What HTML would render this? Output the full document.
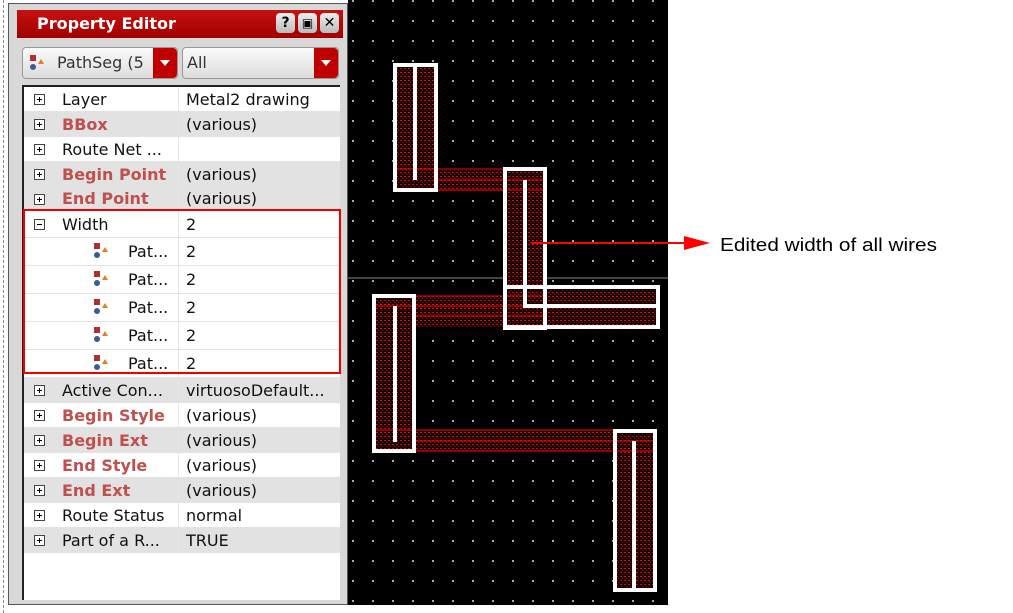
<!DOCTYPE html>
<html><head><meta charset="utf-8"><style>
body{margin:0;width:1013px;height:613px;background:#fff;position:relative;overflow:hidden;font-family:"DejaVu Sans","Liberation Sans",sans-serif}
.abs{position:absolute}
#panel{left:8px;top:3px;width:340px;height:602px;background:#d8d8d8;border:1px solid #555;box-sizing:border-box}
#title{left:17px;top:10px;width:326px;height:28px;background:linear-gradient(#c81010,#a00000);color:#fff;font-weight:bold;font-size:16px;line-height:28px}
.tb{top:13px;width:19px;height:20px;background:linear-gradient(#eee,#bbb);border-radius:4px;color:#000;font-weight:bold;font-size:14px;text-align:center;line-height:20px}
.dd{top:47px;height:32px;background:linear-gradient(#fafafa,#ddd);border:1px solid #999;border-radius:4px;box-sizing:border-box;font-size:16px;line-height:30px;color:#333}
.ddb{position:absolute;right:0;top:0;width:24px;height:30px;background:#c00000;border-radius:0 4px 4px 0}
.ddb:after{content:"";position:absolute;left:7px;top:12px;border-left:5px solid transparent;border-right:5px solid transparent;border-top:6px solid #fff}
#tbl{left:22px;top:85px;width:318px;height:515px;background:#fff;border-left:2px solid #222;border-top:2px solid #222;box-sizing:border-box}
.row{position:absolute;left:0;width:316px;font-size:16px;color:#111;border-bottom:1px solid #e2e2e2;box-sizing:border-box;white-space:nowrap}
.row.g{background:#e2e2e2}
.row .pm{position:absolute;left:10px;width:11px;height:11px;border:1px solid #444;box-sizing:border-box;background:#fff}
.row .pm:before{content:"";position:absolute;left:2px;top:4px;width:5px;height:1px;background:#000}
.row .pm.p:after{content:"";position:absolute;left:4px;top:2px;width:1px;height:5px;background:#000}
.row .n{position:absolute;left:38px}
.row .v{position:absolute;left:162px}
.row .sep{position:absolute;left:154px;top:0;bottom:0;width:1px;background:#e6e6e6}
.b{color:#c0504d;font-weight:bold}
.ic{position:absolute;width:16px;height:16px}
</style></head><body>
<div class="abs" style="left:0;top:0;width:3px;height:613px;border-right:1px dashed #888"></div>
<div id="panel" class="abs"></div>
<div id="title" class="abs"><span style="margin-left:20px">Property Editor</span></div>
<div class="abs tb" style="left:276px">?</div>
<div class="abs tb" style="left:298px;font-size:12px">▣</div>
<div class="abs tb" style="left:320px">✕</div>
<div class="abs dd" style="left:22px;width:156px"><svg class="ic" style="left:7px;top:7px" viewBox="0 0 16 16"><rect x="0" y="0" width="6" height="6" fill="#b03030"/><circle cx="3" cy="12" r="3" fill="#3a5a9a"/><path d="M8 9 L11 4 L14 9Z" fill="#e08020"/></svg><span style="margin-left:34px">PathSeg (5</span><div class="ddb"></div></div>
<div class="abs dd" style="left:182px;width:157px"><span style="margin-left:4px">All</span><div class="ddb"></div></div>
<div id="tbl" class="abs">
<div class="row" style="top:0;height:25px;line-height:25px"><div class="pm p" style="top:7px"></div><span class="n">Layer</span><div class="sep"></div><span class="v">Metal2 drawing</span></div>
<div class="row g" style="top:25px;height:25px;line-height:25px"><div class="pm p" style="top:7px"></div><span class="n b">BBox</span><div class="sep"></div><span class="v">(various)</span></div>
<div class="row" style="top:50px;height:25px;line-height:25px"><div class="pm p" style="top:7px"></div><span class="n">Route Net ...</span><div class="sep"></div></div>
<div class="row g" style="top:75px;height:25px;line-height:25px"><div class="pm p" style="top:7px"></div><span class="n b">Begin Point</span><div class="sep"></div><span class="v">(various)</span></div>
<div class="row g" style="top:100px;height:24px;line-height:24px"><div class="pm p" style="top:7px"></div><span class="n b">End Point</span><div class="sep"></div><span class="v">(various)</span></div>
<div class="row" style="top:124px;height:27px;line-height:27px"><div class="pm" style="top:8px"></div><span class="n">Width</span><div class="sep"></div><span class="v">2</span></div>
<div class="row" style="top:151px;height:28px;line-height:28px"><svg class="ic" style="left:70px;top:5px" viewBox="0 0 16 16"><rect x="0" y="0" width="6" height="6" fill="#b03030"/><circle cx="3" cy="12" r="3" fill="#3a5a9a"/><path d="M8 9 L11 4 L14 9Z" fill="#e08020"/></svg><span class="n" style="left:104px">Pat...</span><div class="sep"></div><span class="v">2</span></div>
<div class="row" style="top:179px;height:28px;line-height:28px"><svg class="ic" style="left:70px;top:5px" viewBox="0 0 16 16"><rect x="0" y="0" width="6" height="6" fill="#b03030"/><circle cx="3" cy="12" r="3" fill="#3a5a9a"/><path d="M8 9 L11 4 L14 9Z" fill="#e08020"/></svg><span class="n" style="left:104px">Pat...</span><div class="sep"></div><span class="v">2</span></div>
<div class="row" style="top:207px;height:28px;line-height:28px"><svg class="ic" style="left:70px;top:5px" viewBox="0 0 16 16"><rect x="0" y="0" width="6" height="6" fill="#b03030"/><circle cx="3" cy="12" r="3" fill="#3a5a9a"/><path d="M8 9 L11 4 L14 9Z" fill="#e08020"/></svg><span class="n" style="left:104px">Pat...</span><div class="sep"></div><span class="v">2</span></div>
<div class="row" style="top:235px;height:28px;line-height:28px"><svg class="ic" style="left:70px;top:5px" viewBox="0 0 16 16"><rect x="0" y="0" width="6" height="6" fill="#b03030"/><circle cx="3" cy="12" r="3" fill="#3a5a9a"/><path d="M8 9 L11 4 L14 9Z" fill="#e08020"/></svg><span class="n" style="left:104px">Pat...</span><div class="sep"></div><span class="v">2</span></div>
<div class="row" style="top:263px;height:28px;line-height:28px"><svg class="ic" style="left:70px;top:5px" viewBox="0 0 16 16"><rect x="0" y="0" width="6" height="6" fill="#b03030"/><circle cx="3" cy="12" r="3" fill="#3a5a9a"/><path d="M8 9 L11 4 L14 9Z" fill="#e08020"/></svg><span class="n" style="left:104px">Pat...</span><div class="sep"></div><span class="v">2</span></div>
<div class="row g" style="top:291px;height:25px;line-height:25px"><div class="pm p" style="top:7px"></div><span class="n">Active Con...</span><div class="sep"></div><span class="v">virtuosoDefault...</span></div>
<div class="row" style="top:316px;height:25px;line-height:25px"><div class="pm p" style="top:7px"></div><span class="n b">Begin Style</span><div class="sep"></div><span class="v">(various)</span></div>
<div class="row g" style="top:341px;height:25px;line-height:25px"><div class="pm p" style="top:7px"></div><span class="n b">Begin Ext</span><div class="sep"></div><span class="v">(various)</span></div>
<div class="row" style="top:366px;height:25px;line-height:25px"><div class="pm p" style="top:7px"></div><span class="n b">End Style</span><div class="sep"></div><span class="v">(various)</span></div>
<div class="row g" style="top:391px;height:25px;line-height:25px"><div class="pm p" style="top:7px"></div><span class="n b">End Ext</span><div class="sep"></div><span class="v">(various)</span></div>
<div class="row" style="top:416px;height:25px;line-height:25px"><div class="pm p" style="top:7px"></div><span class="n">Route Status</span><div class="sep"></div><span class="v">normal</span></div>
<div class="row g" style="top:441px;height:25px;line-height:25px"><div class="pm p" style="top:7px"></div><span class="n">Part of a R...</span><div class="sep"></div><span class="v">TRUE</span></div>
</div>
<div class="abs" style="left:23px;top:209px;width:318px;height:165px;border:2px solid #e00;box-sizing:border-box"></div>

<svg class="abs" style="left:0;top:0" width="1013" height="613" viewBox="0 0 1013 613">
<defs>
<pattern id="dots" width="20" height="20" patternUnits="userSpaceOnUse" x="372" y="0"><rect x="0" y="0" width="2" height="2" fill="#aaa"/></pattern>
<pattern id="hat" width="4" height="4" patternUnits="userSpaceOnUse"><rect width="4" height="4" fill="#100000"/><rect x="0" y="0" width="2" height="1" fill="#e00"/><rect x="2" y="2" width="1" height="1" fill="#a00"/></pattern>
</defs>
<rect x="348" y="0" width="320" height="605" fill="#000"/>
<rect x="348" y="0" width="320" height="605" fill="url(#dots)"/>
<line x1="348" y1="278" x2="668" y2="278" stroke="#888" stroke-width="1"/>
<g fill="url(#hat)">
<rect x="396" y="66" width="39" height="123"/>
<rect x="435" y="169" width="70" height="22"/>
<rect x="506" y="170" width="38" height="156"/>
<rect x="544" y="288" width="113" height="38"/>
<rect x="375" y="297" width="38" height="153"/>
<rect x="413" y="296" width="92" height="31"/>
<rect x="413" y="430" width="202" height="22"/>
<rect x="616" y="432" width="38" height="157"/>
</g>
<g stroke="#f00" stroke-width="1" fill="none">
<line x1="396" y1="169" x2="544" y2="169"/><line x1="435" y1="180" x2="544" y2="180"/><line x1="435" y1="190" x2="544" y2="190"/>
<line x1="413" y1="296" x2="544" y2="296"/><line x1="375" y1="306" x2="544" y2="306"/><line x1="413" y1="316" x2="544" y2="316"/>
<line x1="375" y1="430" x2="654" y2="430"/><line x1="413" y1="441" x2="654" y2="441"/><line x1="413" y1="451" x2="654" y2="451"/>
</g>
<g stroke="#fff" stroke-width="4" fill="none">
<rect x="395" y="65" width="41" height="125"/>
<rect x="505" y="169" width="40" height="159"/>
<rect x="505" y="287" width="153" height="40"/>
<rect x="374" y="296" width="40" height="155"/>
<rect x="615" y="431" width="40" height="159"/>
</g>
<g fill="#fff">
<rect x="413" y="66" width="4" height="114"/>
<rect x="523" y="180" width="4" height="128"/>
<rect x="523" y="304" width="134" height="4"/>
<rect x="393" y="306" width="4" height="136"/>
<rect x="632" y="441" width="4" height="148"/>
</g>
<line x1="531" y1="243" x2="688" y2="243" stroke="#f00" stroke-width="2"/>
<path d="M684 236 L710 243 L684 250Z" fill="#f00"/>
<text x="720" y="251" font-family="Liberation Sans, sans-serif" font-size="18" fill="#000" textLength="217" lengthAdjust="spacingAndGlyphs">Edited width of all wires</text>
</svg>
</body></html>
